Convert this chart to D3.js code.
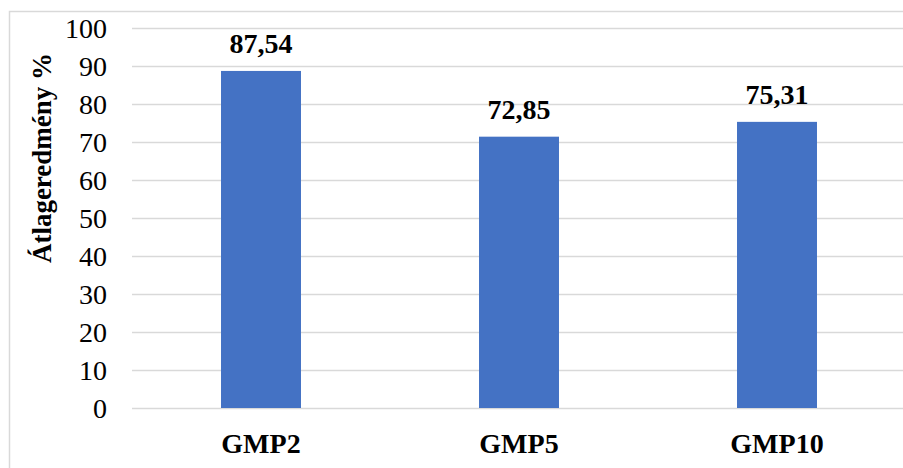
<!DOCTYPE html>
<html>
<head>
<meta charset="utf-8">
<script src="https://cdn.jsdelivr.net/npm/d3@7"></script>
<style>
  html, body { margin: 0; padding: 0; background: #fff; }
  svg { display: block; }
  text { font-family: "Liberation Serif", "Times New Roman", serif; }
</style>
</head>
<body>
<div id="chart"></div>
<script>
// ---- data ----
const categories = ["GMP2", "GMP5", "GMP10"];
const barValues = [88.7, 71.4, 75.3];          // bar heights as drawn
const valueLabels = ["87,54", "72,85", "75,31"]; // data labels as printed
const yTicks = [0, 10, 20, 30, 40, 50, 60, 70, 80, 90, 100];
const yTitle = "Átlageredmény %";

// ---- layout ----
const W = 903, H = 468;
const svg = d3.select("#chart").append("svg").attr("width", W).attr("height", H);

const x = d3.scaleBand().domain(categories).range([132, 906])
  .paddingInner(0.69).paddingOuter(0.345);
const y = d3.scaleLinear().domain([0, 100]).range([408, 28]);

// chart border (left and top visible)
svg.append("path")
  .attr("d", `M9.5,${H} L9.5,11.5 L${W},11.5`)
  .attr("fill", "none").attr("stroke", "#d9d9d9").attr("stroke-width", 1.5);

// gridlines
const yAxis = d3.axisLeft(y).tickValues(yTicks).tickSize(-(W - 132)).tickPadding(25);
const gy = svg.append("g").attr("transform", "translate(132,0)").call(yAxis);
gy.select(".domain").remove();
gy.selectAll(".tick line").attr("stroke", "#d9d9d9").attr("stroke-width", 1.5);
gy.selectAll(".tick text")
  .attr("font-size", 28).attr("fill", "#000")
  .attr("font-family", "'Liberation Serif', serif")
  .attr("dy", "0.34em");

// bars
svg.selectAll("rect.bar").data(categories).join("rect")
  .attr("class", "bar")
  .attr("x", d => x(d))
  .attr("width", x.bandwidth())
  .attr("y", (d, i) => y(barValues[i]))
  .attr("height", (d, i) => y(0) - y(barValues[i]))
  .attr("fill", "#4472C4");

// value labels
svg.selectAll("text.vlabel").data(categories).join("text")
  .attr("class", "vlabel")
  .attr("x", d => x(d) + x.bandwidth() / 2)
  .attr("y", (d, i) => y(barValues[i]) - 17.5)
  .attr("text-anchor", "middle")
  .attr("font-size", 28).attr("font-weight", "bold").attr("fill", "#000")
  .text((d, i) => valueLabels[i]);

// x axis labels
const xAxis = d3.axisBottom(x).tickSize(0).tickPadding(0);
const gx = svg.append("g").attr("transform", "translate(0,453)").call(xAxis);
gx.select(".domain").remove();
gx.selectAll(".tick text")
  .attr("y", 0).attr("dy", 0)
  .attr("font-size", 28).attr("font-weight", "bold").attr("fill", "#000")
  .attr("font-family", "'Liberation Serif', serif");

// y title
svg.append("text")
  .attr("transform", "translate(51,158) rotate(-90)")
  .attr("text-anchor", "middle")
  .attr("font-size", 27).attr("font-weight", "bold").attr("fill", "#000")
  .text(yTitle);
</script>
</body>
</html>
